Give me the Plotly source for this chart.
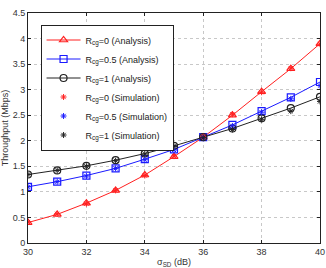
import plotly.graph_objects as go

x = [30, 31, 32, 33, 34, 35, 36, 37, 38, 39, 40]
r0_ana = [0.40, 0.56, 0.78, 1.03, 1.33, 1.69, 2.07, 2.50, 2.96, 3.41, 3.90]
r05_ana = [1.10, 1.20, 1.32, 1.46, 1.64, 1.83, 2.07, 2.31, 2.58, 2.85, 3.15]
r1_ana = [1.34, 1.42, 1.51, 1.62, 1.75, 1.90, 2.07, 2.24, 2.44, 2.64, 2.86]
r0_sim = [0.41, 0.57, 0.77, 1.03, 1.32, 1.70, 2.08, 2.52, 2.95, 3.42, 3.89]
r05_sim = [1.10, 1.20, 1.31, 1.46, 1.63, 1.82, 2.06, 2.29, 2.56, 2.82, 3.08]
r1_sim = [1.34, 1.42, 1.50, 1.61, 1.74, 1.89, 2.06, 2.22, 2.42, 2.58, 2.77]

names_ana = ["R<sub>cg</sub>=0 (Analysis)", "R<sub>cg</sub>=0.5 (Analysis)", "R<sub>cg</sub>=1 (Analysis)"]
names_sim = ["R<sub>cg</sub>=0 (Simulation)", "R<sub>cg</sub>=0.5 (Simulation)", "R<sub>cg</sub>=1 (Simulation)"]
colors = ["#ff2020", "#1a1aff", "#222222"]
symbols = ["triangle-up-open", "square-open", "circle-open"]

fig = go.Figure()
for ys, nm, c, s in zip([r0_ana, r05_ana, r1_ana], names_ana, colors, symbols):
    fig.add_trace(go.Scatter(x=x, y=ys, name=nm, mode="lines+markers",
                             line=dict(color=c, width=1),
                             marker=dict(symbol=s, size=7, color=c, line=dict(color=c, width=1.2))))
for ys, nm, c in zip([r0_sim, r05_sim, r1_sim], names_sim, colors):
    fig.add_trace(go.Scatter(x=x, y=ys, name=nm, mode="markers",
                             marker=dict(symbol="asterisk-open", size=5, color=c, line=dict(color=c, width=1))))

axis_common = dict(showline=True, mirror="ticks", linecolor="#222", linewidth=1,
                   ticks="inside", ticklen=3, tickcolor="#222",
                   showgrid=True, gridcolor="#c8c8c8", griddash="dot", gridwidth=1,
                   zeroline=False, tickfont=dict(size=9, color="#333"),
                   automargin=False, ticklabeloverflow="allow")
fig.update_xaxes(range=[30, 40], dtick=2, title=dict(text="σ<sub>SD</sub> (dB)", font=dict(size=9, color="#333")), **axis_common)
fig.update_yaxes(range=[0, 4.5], dtick=0.5, title=dict(text="Throughput (Mbps)", font=dict(size=9, color="#333")), **axis_common)

fig.update_layout(width=326, height=268, margin=dict(l=28, r=6, t=13, b=25, autoexpand=False),
                  paper_bgcolor="white", plot_bgcolor="white",
                  font=dict(family="Liberation Sans, Arial, sans-serif", size=9, color="#222"),
                  legend=dict(x=0.043, y=0.95, xanchor="left", yanchor="top",
                              bordercolor="#222", borderwidth=1, bgcolor="white",
                              font=dict(size=9, color="#222"), itemwidth=34,
                              tracegroupgap=0))
fig.write_html("out.html")
